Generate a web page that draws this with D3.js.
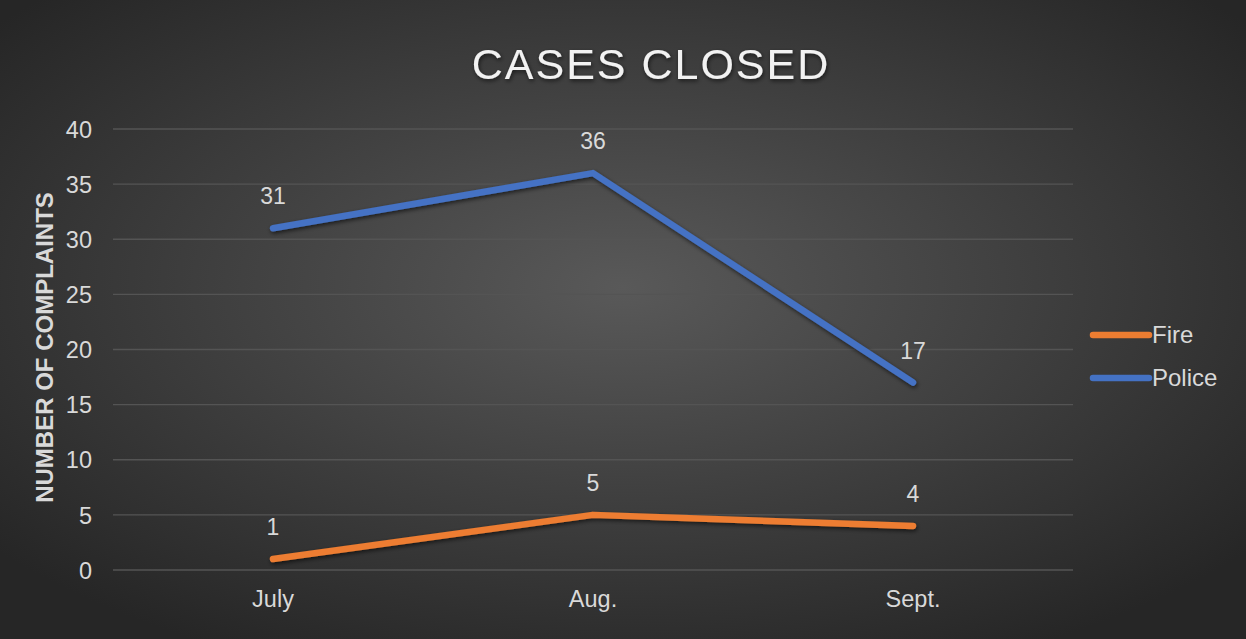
<!DOCTYPE html>
<html>
<head>
<meta charset="utf-8">
<script src="https://cdn.jsdelivr.net/npm/d3@7"></script>
<style>
  html, body { margin: 0; padding: 0; background: #2b2b2b; }
  svg { display: block; font-family: "Liberation Sans", Arial, sans-serif; }
  .grid line { stroke: #545454; stroke-width: 1.3; }
  .axis text { fill: #d9d9d9; font-size: 23.5px; }
  .label { fill: #d9d9d9; font-size: 23px; text-anchor: middle; }
  .line { fill: none; stroke-width: 6.5; stroke-linecap: round; stroke-linejoin: round; }
</style>
</head>
<body>
<svg width="1246" height="639"></svg>
<script>
const months = ["July", "Aug.", "Sept."]
const fire = [1, 5, 4]
const police = [31, 36, 17]
const yTicks = [0, 5, 10, 15, 20, 25, 30, 35, 40]
const seriesNames = ["Fire", "Police"]

const svg = d3.select("svg"),
      margin = {top: 129, right: 173, bottom: 69, left: 113},
      width = svg.attr("width") - margin.left - margin.right,
      height = svg.attr("height") - margin.top - margin.bottom

const defs = svg.append("defs")
const bg = defs.append("radialGradient").attr("id", "bg")
  .attr("cx", "50%").attr("cy", "45%").attr("r", "65%")
bg.append("stop").attr("offset", "0%").attr("stop-color", "#595959")
bg.append("stop").attr("offset", "100%").attr("stop-color", "#262626")

const shadow = defs.append("filter").attr("id", "shadow")
  .attr("x", "-10%").attr("y", "-10%").attr("width", "120%").attr("height", "140%")
shadow.append("feDropShadow").attr("dx", 1).attr("dy", 2).attr("stdDeviation", 2)
  .attr("flood-color", "#000").attr("flood-opacity", 0.6)

svg.append("rect").attr("width", 1246).attr("height", 639).attr("fill", "url(#bg)")

const g = svg.append("g").attr("transform", "translate(" + margin.left + "," + margin.top + ")")

const x = d3.scaleBand().domain(months).range([0, width]),
      y = d3.scaleLinear().domain([0, 40]).range([height, 0]),
      colors = d3.scaleOrdinal().domain(seriesNames).range(["#ED7D31", "#4472C4"])

const data = [
  {id: "Fire", values: months.map((m, i) => ({month: m, value: fire[i]}))},
  {id: "Police", values: months.map((m, i) => ({month: m, value: police[i]}))}
]

g.append("g")
  .attr("class", "grid")
  .selectAll("line")
  .data(yTicks)
  .enter().append("line")
    .attr("x1", 0).attr("x2", width)
    .attr("y1", d => y(d)).attr("y2", d => y(d))

// y labels
g.append("g")
  .attr("class", "axis axis--y")
  .call(d3.axisLeft(y).tickValues(yTicks).tickSize(0).tickPadding(21))
  .call(a => a.select(".domain").remove())
  .selectAll("text").attr("dy", "0.35em")

g.append("g")
  .attr("class", "axis axis--x")
  .attr("transform", "translate(0," + height + ")")
  .call(d3.axisBottom(x).tickSize(0).tickPadding(20))
  .call(a => a.select(".domain").remove())

const line = d3.line()
  .x(d => x(d.month) + x.bandwidth() / 2)
  .y(d => y(d.value))

const series = g.selectAll(".series")
  .data(data)
  .enter().append("g")
    .attr("class", "series")

series.append("path")
  .attr("class", "line")
  .attr("d", d => line(d.values))
  .style("stroke", d => colors(d.id))
  .attr("filter", "url(#shadow)")

series.selectAll(".label")
  .data(d => d.values)
  .enter().append("text")
    .attr("class", "label")
    .attr("x", d => x(d.month) + x.bandwidth() / 2)
    .attr("y", d => y(d.value) - 24)
    .text(d => d.value)

// title
svg.append("text")
  .attr("x", 651)
  .attr("y", 79)
  .attr("text-anchor", "middle")
  .attr("fill", "#f2f2f2")
  .attr("filter", "url(#shadow)")
  .style("font-size", "43px")
  .style("letter-spacing", "2px")
  .text("CASES CLOSED")

// axis title
svg.append("text")
  .attr("transform", "translate(53," + (margin.top + height / 2 - 2) + ") rotate(-90)")
  .attr("text-anchor", "middle")
  .attr("fill", "#d9d9d9")
  .style("font-size", "24px")
  .style("font-weight", "bold")
  .text("NUMBER OF COMPLAINTS")

// legend
const legend = svg.selectAll(".legend")
  .data(seriesNames)
  .enter().append("g")
    .attr("class", "legend")
    .attr("transform", (d, i) => "translate(1093," + (335 + i * 43) + ")")

legend.append("line")
  .attr("x1", 0).attr("x2", 56)
  .attr("stroke", d => colors(d))
  .attr("stroke-width", 6.5)
  .attr("stroke-linecap", "round")

legend.append("text")
  .attr("x", 59)
  .attr("dy", "0.35em")
  .attr("fill", "#d9d9d9")
  .style("font-size", "24px")
  .text(d => d)
</script>
</body>
</html>
